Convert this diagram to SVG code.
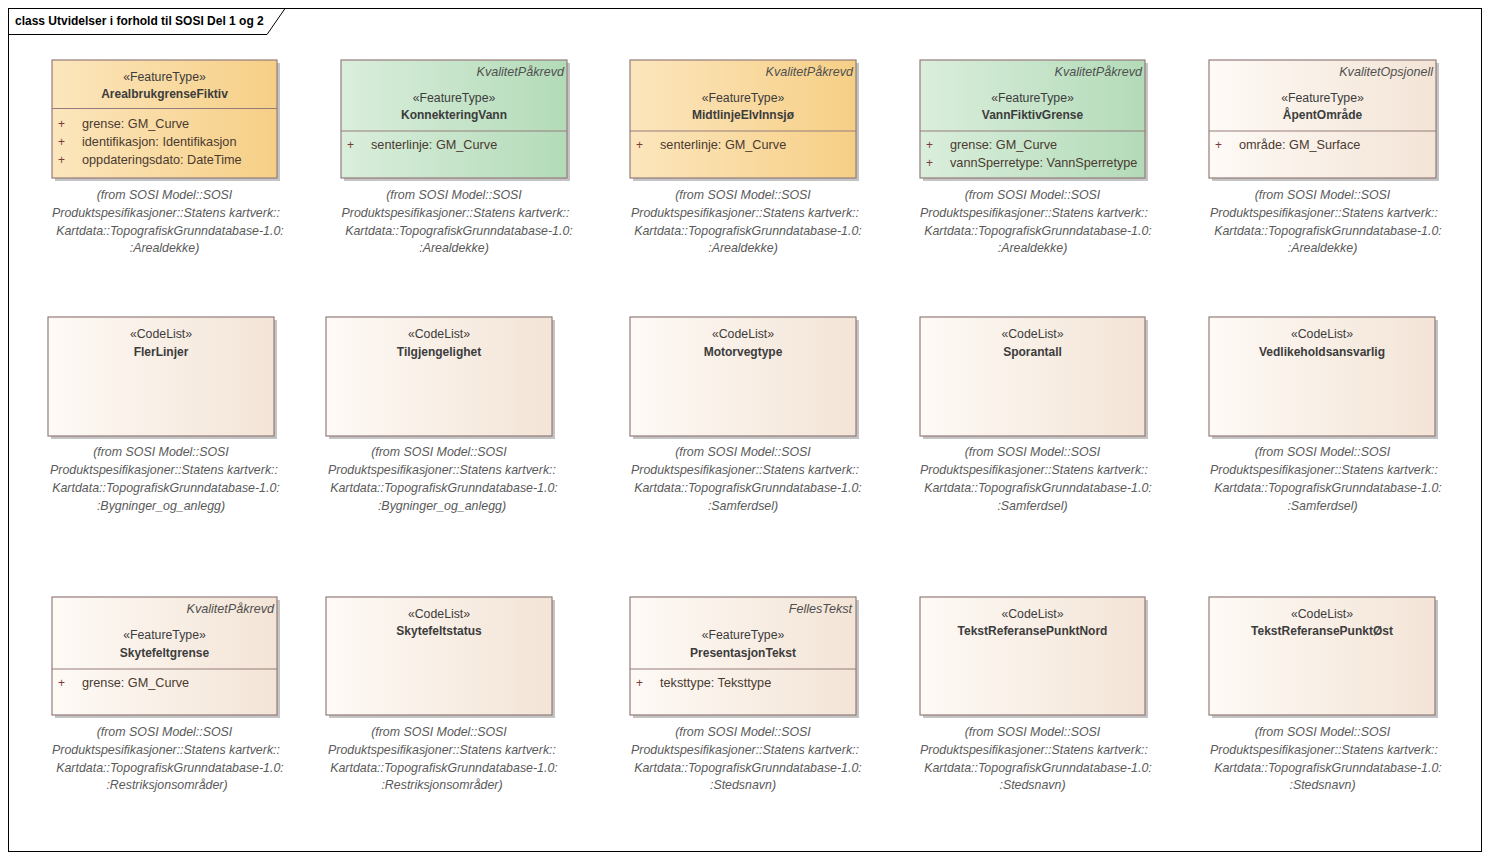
<svg xmlns="http://www.w3.org/2000/svg" width="1489" height="860" viewBox="0 0 1489 860">
<defs>
<linearGradient id="gO" x1="0" y1="0" x2="1" y2="0"><stop offset="0" stop-color="#FCE6BD"/><stop offset="1" stop-color="#F6CF86"/></linearGradient>
<linearGradient id="gG" x1="0" y1="0" x2="1" y2="0"><stop offset="0" stop-color="#DAEEDC"/><stop offset="1" stop-color="#B3DBB8"/></linearGradient>
<linearGradient id="gC" x1="0" y1="0" x2="1" y2="0"><stop offset="0" stop-color="#FEFAF6"/><stop offset="1" stop-color="#F3E4D6"/></linearGradient>
</defs>
<style>
text{font-family:"Liberation Sans",Arial,sans-serif;font-size:12px;fill:#3C3C3C}
.sh{fill:#C4C4C4}
.b{stroke:#957C7C;stroke-width:1.2}
.o{fill:url(#gO)} .g{fill:url(#gG)} .c{fill:url(#gC)}
.dv{stroke:#957C7C;stroke-width:1.2}
.st{text-anchor:middle;font-size:12.3px}
.nm{text-anchor:middle;font-weight:bold}
.tg{text-anchor:end;font-style:italic;fill:#505050;font-size:12.6px}
.pl{fill:#7A3A3A}
.at{fill:#4A3A30;font-size:12.7px}
.nt{text-anchor:middle;font-style:italic;fill:#5A5A5A;font-size:12.4px}
</style>
<rect width="1489" height="860" fill="#FFFFFF"/>
<g id="frame">
<rect x="8.5" y="8.5" width="1473" height="843" fill="none" stroke="#000" stroke-width="1"/>
<path d="M8.5 34.5 H267 L285 8.5" fill="none" stroke="#000" stroke-width="1"/>
<text x="15" y="25" style="font-weight:bold;fill:#000">class Utvidelser i forhold til SOSI Del 1 og 2</text>
</g>
<g id="connectors"/>

<!-- Row 1 -->
<g id="ArealbrukgrenseFiktiv">
<rect class="sh" x="55" y="63" width="225" height="118"/>
<rect class="b o" x="52" y="60" width="225" height="118"/>
<line class="dv" x1="52" y1="108.5" x2="277" y2="108.5"/>
<text class="st" x="164.5" y="81">«FeatureType»</text>
<text class="nm" x="164.5" y="98">ArealbrukgrenseFiktiv</text>
<text class="pl" x="58" y="128">+</text><text class="at" x="82" y="128">grense: GM_Curve</text>
<text class="pl" x="58" y="146">+</text><text class="at" x="82" y="146">identifikasjon: Identifikasjon</text>
<text class="pl" x="58" y="164">+</text><text class="at" x="82" y="164">oppdateringsdato: DateTime</text>
<text class="nt" x="164.5" y="199">(from SOSI Model::SOSI</text>
<text class="nt" x="166" y="217">Produktspesifikasjoner::Statens kartverk::</text>
<text class="nt" x="170" y="235">Kartdata::TopografiskGrunndatabase-1.0:</text>
<text class="nt" x="164.5" y="252">:Arealdekke)</text>
</g>
<g id="KonnekteringVann">
<rect class="sh" x="344" y="63" width="226" height="118"/>
<rect class="b g" x="341" y="60" width="226" height="118"/>
<line class="dv" x1="341" y1="131" x2="567" y2="131"/>
<text class="tg" x="564" y="76">KvalitetPåkrevd</text>
<text class="st" x="454" y="102">«FeatureType»</text>
<text class="nm" x="454" y="119">KonnekteringVann</text>
<text class="pl" x="347" y="149">+</text><text class="at" x="371" y="149">senterlinje: GM_Curve</text>
<text class="nt" x="454" y="199">(from SOSI Model::SOSI</text>
<text class="nt" x="455.5" y="217">Produktspesifikasjoner::Statens kartverk::</text>
<text class="nt" x="459" y="235">Kartdata::TopografiskGrunndatabase-1.0:</text>
<text class="nt" x="454" y="252">:Arealdekke)</text>
</g>
<g id="MidtlinjeElvInnsjo">
<rect class="sh" x="633" y="63" width="226" height="118"/>
<rect class="b o" x="630" y="60" width="226" height="118"/>
<line class="dv" x1="630" y1="131" x2="856" y2="131"/>
<text class="tg" x="853" y="76">KvalitetPåkrevd</text>
<text class="st" x="743" y="102">«FeatureType»</text>
<text class="nm" x="743" y="119">MidtlinjeElvInnsjø</text>
<text class="pl" x="636" y="149">+</text><text class="at" x="660" y="149">senterlinje: GM_Curve</text>
<text class="nt" x="743" y="199">(from SOSI Model::SOSI</text>
<text class="nt" x="745" y="217">Produktspesifikasjoner::Statens kartverk::</text>
<text class="nt" x="748" y="235">Kartdata::TopografiskGrunndatabase-1.0:</text>
<text class="nt" x="743" y="252">:Arealdekke)</text>
</g>
<g id="VannFiktivGrense">
<rect class="sh" x="923" y="63" width="225" height="118"/>
<rect class="b g" x="920" y="60" width="225" height="118"/>
<line class="dv" x1="920" y1="131" x2="1145" y2="131"/>
<text class="tg" x="1142" y="76">KvalitetPåkrevd</text>
<text class="st" x="1032.5" y="102">«FeatureType»</text>
<text class="nm" x="1032.5" y="119">VannFiktivGrense</text>
<text class="pl" x="926" y="149">+</text><text class="at" x="950" y="149">grense: GM_Curve</text>
<text class="pl" x="926" y="167">+</text><text class="at" x="950" y="167">vannSperretype: VannSperretype</text>
<text class="nt" x="1032.5" y="199">(from SOSI Model::SOSI</text>
<text class="nt" x="1034" y="217">Produktspesifikasjoner::Statens kartverk::</text>
<text class="nt" x="1038" y="235">Kartdata::TopografiskGrunndatabase-1.0:</text>
<text class="nt" x="1032.5" y="252">:Arealdekke)</text>
</g>
<g id="ApentOmrade">
<rect class="sh" x="1212" y="63" width="227" height="118"/>
<rect class="b c" x="1209" y="60" width="227" height="118"/>
<line class="dv" x1="1209" y1="131" x2="1436" y2="131"/>
<text class="tg" x="1433" y="76">KvalitetOpsjonell</text>
<text class="st" x="1322.5" y="102">«FeatureType»</text>
<text class="nm" x="1322.5" y="119">ÅpentOmråde</text>
<text class="pl" x="1215" y="149">+</text><text class="at" x="1239" y="149">område: GM_Surface</text>
<text class="nt" x="1322.5" y="199">(from SOSI Model::SOSI</text>
<text class="nt" x="1324" y="217">Produktspesifikasjoner::Statens kartverk::</text>
<text class="nt" x="1328" y="235">Kartdata::TopografiskGrunndatabase-1.0:</text>
<text class="nt" x="1322.5" y="252">:Arealdekke)</text>
</g>

<!-- Row 2 -->
<g id="FlerLinjer">
<rect class="sh" x="51" y="320" width="226" height="119"/>
<rect class="b c" x="48" y="317" width="226" height="119"/>
<text class="st" x="161" y="338">«CodeList»</text>
<text class="nm" x="161" y="356">FlerLinjer</text>
<text class="nt" x="161" y="456">(from SOSI Model::SOSI</text>
<text class="nt" x="164" y="474">Produktspesifikasjoner::Statens kartverk::</text>
<text class="nt" x="166" y="492">Kartdata::TopografiskGrunndatabase-1.0:</text>
<text class="nt" x="161" y="510">:Bygninger_og_anlegg)</text>
</g>
<g id="Tilgjengelighet">
<rect class="sh" x="329" y="320" width="226" height="119"/>
<rect class="b c" x="326" y="317" width="226" height="119"/>
<text class="st" x="439" y="338">«CodeList»</text>
<text class="nm" x="439" y="356">Tilgjengelighet</text>
<text class="nt" x="439" y="456">(from SOSI Model::SOSI</text>
<text class="nt" x="442" y="474">Produktspesifikasjoner::Statens kartverk::</text>
<text class="nt" x="444" y="492">Kartdata::TopografiskGrunndatabase-1.0:</text>
<text class="nt" x="442" y="510">:Bygninger_og_anlegg)</text>
</g>
<g id="Motorvegtype">
<rect class="sh" x="633" y="320" width="226" height="119"/>
<rect class="b c" x="630" y="317" width="226" height="119"/>
<text class="st" x="743" y="338">«CodeList»</text>
<text class="nm" x="743" y="356">Motorvegtype</text>
<text class="nt" x="743" y="456">(from SOSI Model::SOSI</text>
<text class="nt" x="745" y="474">Produktspesifikasjoner::Statens kartverk::</text>
<text class="nt" x="748" y="492">Kartdata::TopografiskGrunndatabase-1.0:</text>
<text class="nt" x="743" y="510">:Samferdsel)</text>
</g>
<g id="Sporantall">
<rect class="sh" x="923" y="320" width="225" height="119"/>
<rect class="b c" x="920" y="317" width="225" height="119"/>
<text class="st" x="1032.5" y="338">«CodeList»</text>
<text class="nm" x="1032.5" y="356">Sporantall</text>
<text class="nt" x="1032.5" y="456">(from SOSI Model::SOSI</text>
<text class="nt" x="1034" y="474">Produktspesifikasjoner::Statens kartverk::</text>
<text class="nt" x="1038" y="492">Kartdata::TopografiskGrunndatabase-1.0:</text>
<text class="nt" x="1032.5" y="510">:Samferdsel)</text>
</g>
<g id="Vedlikeholdsansvarlig">
<rect class="sh" x="1212" y="320" width="226" height="119"/>
<rect class="b c" x="1209" y="317" width="226" height="119"/>
<text class="st" x="1322" y="338">«CodeList»</text>
<text class="nm" x="1322" y="356">Vedlikeholdsansvarlig</text>
<text class="nt" x="1322.5" y="456">(from SOSI Model::SOSI</text>
<text class="nt" x="1324" y="474">Produktspesifikasjoner::Statens kartverk::</text>
<text class="nt" x="1328" y="492">Kartdata::TopografiskGrunndatabase-1.0:</text>
<text class="nt" x="1322.5" y="510">:Samferdsel)</text>
</g>

<!-- Row 3 -->
<g id="Skytefeltgrense">
<rect class="sh" x="55" y="600" width="225" height="118"/>
<rect class="b c" x="52" y="597" width="225" height="118"/>
<line class="dv" x1="52" y1="669" x2="277" y2="669"/>
<text class="tg" x="274" y="613">KvalitetPåkrevd</text>
<text class="st" x="164.5" y="639">«FeatureType»</text>
<text class="nm" x="164.5" y="657">Skytefeltgrense</text>
<text class="pl" x="58" y="687">+</text><text class="at" x="82" y="687">grense: GM_Curve</text>
<text class="nt" x="164.5" y="736">(from SOSI Model::SOSI</text>
<text class="nt" x="166" y="754">Produktspesifikasjoner::Statens kartverk::</text>
<text class="nt" x="170" y="772">Kartdata::TopografiskGrunndatabase-1.0:</text>
<text class="nt" x="167" y="789">:Restriksjonsområder)</text>
</g>
<g id="Skytefeltstatus">
<rect class="sh" x="329" y="600" width="226" height="118"/>
<rect class="b c" x="326" y="597" width="226" height="118"/>
<text class="st" x="439" y="618">«CodeList»</text>
<text class="nm" x="439" y="635">Skytefeltstatus</text>
<text class="nt" x="439" y="736">(from SOSI Model::SOSI</text>
<text class="nt" x="442" y="754">Produktspesifikasjoner::Statens kartverk::</text>
<text class="nt" x="444" y="772">Kartdata::TopografiskGrunndatabase-1.0:</text>
<text class="nt" x="442" y="789">:Restriksjonsområder)</text>
</g>
<g id="PresentasjonTekst">
<rect class="sh" x="633" y="600" width="226" height="118"/>
<rect class="b c" x="630" y="597" width="226" height="118"/>
<line class="dv" x1="630" y1="669" x2="856" y2="669"/>
<text class="tg" x="852" y="613">FellesTekst</text>
<text class="st" x="743" y="639">«FeatureType»</text>
<text class="nm" x="743" y="657">PresentasjonTekst</text>
<text class="pl" x="636" y="687">+</text><text class="at" x="660" y="687">teksttype: Teksttype</text>
<text class="nt" x="743" y="736">(from SOSI Model::SOSI</text>
<text class="nt" x="745" y="754">Produktspesifikasjoner::Statens kartverk::</text>
<text class="nt" x="748" y="772">Kartdata::TopografiskGrunndatabase-1.0:</text>
<text class="nt" x="743" y="789">:Stedsnavn)</text>
</g>
<g id="TekstReferansePunktNord">
<rect class="sh" x="923" y="600" width="225" height="118"/>
<rect class="b c" x="920" y="597" width="225" height="118"/>
<text class="st" x="1032.5" y="618">«CodeList»</text>
<text class="nm" x="1032.5" y="635">TekstReferansePunktNord</text>
<text class="nt" x="1032.5" y="736">(from SOSI Model::SOSI</text>
<text class="nt" x="1034" y="754">Produktspesifikasjoner::Statens kartverk::</text>
<text class="nt" x="1038" y="772">Kartdata::TopografiskGrunndatabase-1.0:</text>
<text class="nt" x="1032.5" y="789">:Stedsnavn)</text>
</g>
<g id="TekstReferansePunktOst">
<rect class="sh" x="1212" y="600" width="226" height="118"/>
<rect class="b c" x="1209" y="597" width="226" height="118"/>
<text class="st" x="1322" y="618">«CodeList»</text>
<text class="nm" x="1322" y="635">TekstReferansePunktØst</text>
<text class="nt" x="1322.5" y="736">(from SOSI Model::SOSI</text>
<text class="nt" x="1324" y="754">Produktspesifikasjoner::Statens kartverk::</text>
<text class="nt" x="1328" y="772">Kartdata::TopografiskGrunndatabase-1.0:</text>
<text class="nt" x="1322.5" y="789">:Stedsnavn)</text>
</g>
</svg>
